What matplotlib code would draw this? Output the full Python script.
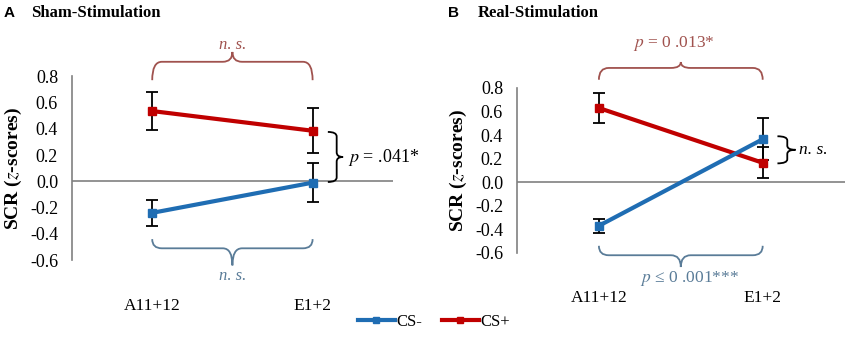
import matplotlib.pyplot as plt
from matplotlib.path import Path
from matplotlib.patches import PathPatch
from matplotlib.lines import Line2D

# dados
categorias = ['A11+12', 'E1+2']
sham_cs_menos = [-0.24, -0.01]
sham_cs_menos_err = [0.10, 0.15]
sham_cs_mais = [0.535, 0.385]
sham_cs_mais_err = [0.145, 0.17]
real_cs_menos = [-0.37, 0.365]
real_cs_menos_err = [0.06, 0.18]
real_cs_mais = [0.63, 0.165]
real_cs_mais_err = [0.125, 0.13]

azul = '#1f6db3'
vermelho = '#c00000'
chave_vermelha = '#a0524e'
chave_azul = '#5a7c98'
serif = ['Liberation Serif', 'DejaVu Serif']

plt.rcParams['font.family'] = serif
plt.rcParams['mathtext.fontset'] = 'stix'


def chave_h(ax, x0, x1, y_ponta, y_barra, y_bico, cor):
    # chave horizontal; pontas em y_ponta, bico em y_bico
    xm = (x0 + x1) / 2
    r = 0.06
    verts = [(x0, y_ponta), (x0, y_barra), (x0 + r, y_barra),
             (xm - r, y_barra), (xm, y_barra), (xm, y_bico),
             (xm, y_barra), (xm + r, y_barra),
             (x1 - r, y_barra), (x1, y_barra), (x1, y_ponta)]
    codes = [Path.MOVETO, Path.CURVE3, Path.CURVE3,
             Path.LINETO, Path.CURVE3, Path.CURVE3,
             Path.CURVE3, Path.CURVE3,
             Path.LINETO, Path.CURVE3, Path.CURVE3]
    ax.add_patch(PathPatch(Path(verts, codes), fill=False, ec=cor, lw=1.3, clip_on=False))


def chave_v(ax, y0, y1, x_ponta, x_barra, x_bico, cor='black'):
    ym = (y0 + y1) / 2
    r = 0.035
    verts = [(x_ponta, y0), (x_barra, y0), (x_barra, y0 + r),
             (x_barra, ym - r), (x_barra, ym), (x_bico, ym),
             (x_barra, ym), (x_barra, ym + r),
             (x_barra, y1 - r), (x_barra, y1), (x_ponta, y1)]
    codes = [Path.MOVETO, Path.CURVE3, Path.CURVE3,
             Path.LINETO, Path.CURVE3, Path.CURVE3,
             Path.CURVE3, Path.CURVE3,
             Path.LINETO, Path.CURVE3, Path.CURVE3]
    ax.add_patch(PathPatch(Path(verts, codes), fill=False, ec=cor, lw=1.3, clip_on=False))


def painel(ax, menos, menos_err, mais, mais_err):
    x = [0.5, 1.5]
    ax.set_xlim(0, 2)
    ax.set_ylim(-0.6, 0.8)
    ax.axhline(0, color='#808080', lw=1.2, zorder=1)
    ax.errorbar(x, mais, yerr=mais_err, color=vermelho, lw=3, marker='s', ms=6,
                ecolor='black', elinewidth=1.3, capsize=4, capthick=1.3, zorder=3)
    ax.errorbar(x, menos, yerr=menos_err, color=azul, lw=3, marker='s', ms=6,
                ecolor='black', elinewidth=1.3, capsize=4, capthick=1.3, zorder=3)
    for s in ['top', 'right', 'bottom']:
        ax.spines[s].set_visible(False)
    ax.spines['left'].set_color('#808080')
    ax.spines['left'].set_linewidth(1.2)
    ax.set_yticks([-0.6, -0.4, -0.2, 0.0, 0.2, 0.4, 0.6, 0.8])
    ax.set_yticklabels(['%.1f' % v for v in ax.get_yticks()])
    ax.set_xticks(x)
    ax.set_xticklabels(categorias)
    ax.tick_params(axis='y', length=0, labelsize=13, pad=10)
    ax.tick_params(axis='x', length=0, labelsize=12.5, pad=27)
    ax.set_ylabel('SCR ($\\mathbf{\\mathit{z}}$-scores)', fontsize=14, fontweight='bold', labelpad=4)


fig = plt.figure(figsize=(8.51, 3.45), dpi=100)
axA = fig.add_axes([0.0846, 0.246, 0.377, 0.533])
axB = fig.add_axes([0.6075, 0.267, 0.385, 0.478])

painel(axA, sham_cs_menos, sham_cs_menos_err, sham_cs_mais, sham_cs_mais_err)
painel(axB, real_cs_menos, real_cs_menos_err, real_cs_mais, real_cs_mais_err)

# anotações painel A
chave_h(axA, 0.5, 1.5, 0.77, 0.91, 0.985, chave_vermelha)
axA.text(1.0, 1.04, 'n. s.', color=chave_vermelha, style='italic', fontsize=12,
         ha='center', va='center', clip_on=False)
chave_h(axA, 0.5, 1.5, -0.44, -0.51, -0.64, chave_azul)
axA.text(1.0, -0.72, 'n. s.', color=chave_azul, style='italic', fontsize=12,
         ha='center', va='center', clip_on=False)
chave_v(axA, -0.005, 0.376, 1.595, 1.65, 1.69)
axA.text(1.72, 0.185, '$p$ = .041*', fontsize=13, ha='left', va='center', clip_on=False)

# anotações painel B
chave_h(axB, 0.5, 1.5, 0.87, 0.97, 1.02, chave_vermelha)
axB.text(0.96, 1.18, '$p$ = 0 .013*', color=chave_vermelha, fontsize=12.5,
         ha='center', va='center', clip_on=False)
chave_h(axB, 0.5, 1.5, -0.54, -0.62, -0.72, chave_azul)
axB.text(1.05, -0.82, '$p$ ≤ 0 .001***', color=chave_azul, fontsize=12.5,
         ha='center', va='center', clip_on=False)
chave_v(axB, 0.16, 0.39, 1.59, 1.65, 1.70)
axB.text(1.72, 0.275, 'n. s.', style='italic', fontsize=12.5, ha='left', va='center', clip_on=False)

# títulos
fig.text(0.004, 0.962, 'A', fontsize=11, fontweight='bold', family=['Liberation Sans', 'DejaVu Sans'], va='center')
fig.text(0.037, 0.962, 'Sham-Stimulation', fontsize=12, fontweight='bold', va='center')
fig.text(0.527, 0.962, 'B', fontsize=11, fontweight='bold', family=['Liberation Sans', 'DejaVu Sans'], va='center')
fig.text(0.562, 0.962, 'Real-Stimulation', fontsize=12, fontweight='bold', va='center')

# legenda
handles = [Line2D([], [], color=azul, lw=3, marker='s', ms=5),
           Line2D([], [], color=vermelho, lw=3, marker='s', ms=5)]
fig.legend(handles, ['CS-', 'CS+'], loc='center', bbox_to_anchor=(0.51, 0.067), ncol=2,
           frameon=False, fontsize=12, handlelength=2.2, handletextpad=0.1, columnspacing=1.2)

fig.savefig('out.png', dpi=100)
